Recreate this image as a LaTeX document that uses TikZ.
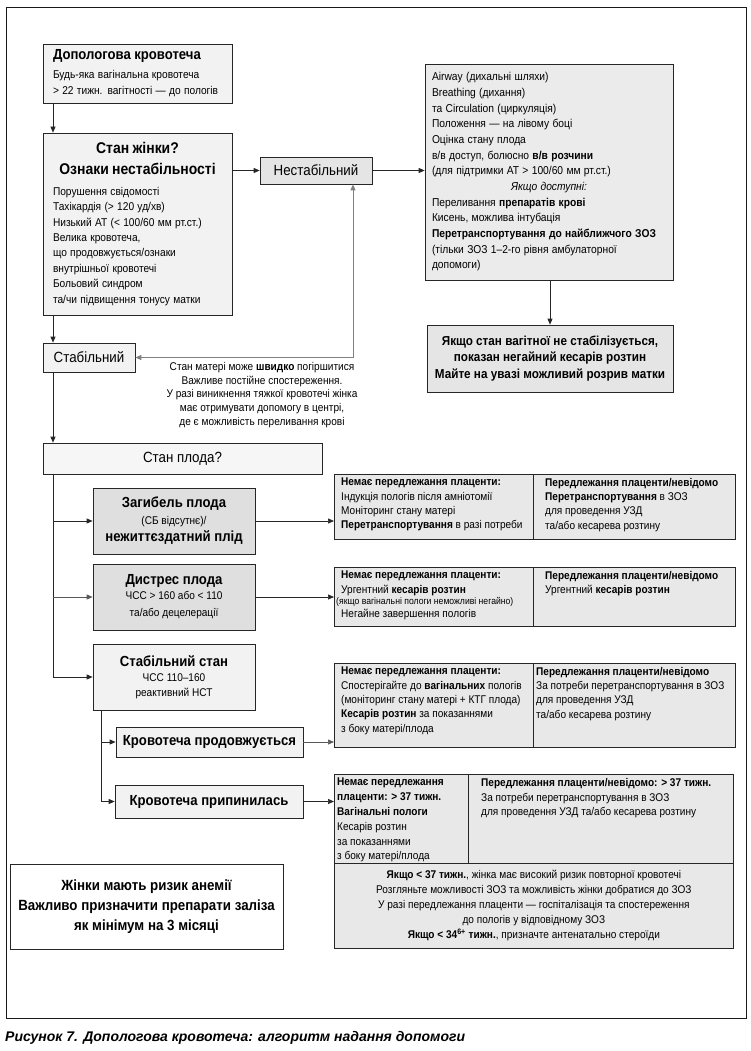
\documentclass[tikz,border=0pt]{standalone}
\usepackage{fontspec}
\setmainfont[FakeStretch=0.9]{Liberation Sans}
\newfontfamily\capfont{Liberation Sans}
\usepackage{xcolor}
\usetikzlibrary{arrows.meta, positioning, calc}

\definecolor{palefill}{gray}{0.95}
\definecolor{fetusfill}{gray}{0.965}
\definecolor{midfill}{gray}{0.90}
\definecolor{darkfill}{gray}{0.875}
\definecolor{resusfill}{gray}{0.92}
\definecolor{cellfill}{gray}{0.91}

\newcommand{\titlefont}{\fontsize{14.6}{17}\selectfont\bfseries}
\newcommand{\headfont}{\fontsize{14.8}{17}\selectfont}
\newcommand{\bodyfont}{\fontsize{11.3}{15.5}\selectfont}
\newcommand{\subfont}{\fontsize{11.2}{14}\selectfont}
\newcommand{\cellfont}{\fontsize{11.2}{14.3}\selectfont}
\newcommand{\notefont}{\fontsize{11.2}{13.8}\selectfont}
\newcommand{\alertfont}{\fontsize{13}{16.2}\selectfont\bfseries}
\newcommand{\anemiafont}{\fontsize{14.8}{20}\selectfont\bfseries}

\tikzset{
  box/.style={
    rectangle, draw=black!85, line width=0.7pt,
    fill=palefill, inner sep=0pt, align=center
  },
  cell/.style={
    rectangle, draw=black!85, line width=0.7pt,
    fill=cellfill, inner sep=0pt, anchor=north west
  },
  celltext/.style={anchor=north west, inner sep=0pt, align=left, font=\cellfont},
  arrow/.style={-{Triangle[length=6pt,width=5pt]}, line width=0.7pt, draw=black!85},
  greyarrow/.style={{Triangle[length=6pt,width=5pt]}-{Triangle[length=6pt,width=5pt]},
    line width=1pt, draw=black!50}
}

\begin{document}
\begin{tikzpicture}[x=1pt, y=-1pt]
\useasboundingbox (0,0) rectangle (751,1051);
\draw[line width=0.9pt, draw=black!90] (6,7) rectangle (746,1018);

\coordinate (spine) at (53,0);
\coordinate (spine2) at (101,0);
\coordinate (turn) at (353,0);

% mother
\node[box, minimum width=189pt, minimum height=59pt, text width=169pt, align=left] (onset) at (137.5,73.5)
  {{\titlefont Допологова кровотеча\par}\vspace{3pt}
   {\bodyfont\fontsize{11.3}{16}\selectfont Будь-яка вагінальна кровотеча\\> 22 тижн. вагітності — до пологів\par}};
\node[box, minimum width=189pt, minimum height=182pt, text width=169pt, align=left] (woman) at (137.5,224)
  {{\centering\titlefont\fontsize{15.5}{21}\selectfont Стан жінки?\\Ознаки нестабільності\par}\vspace{5pt}
   {\bodyfont\fontsize{11.3}{15.4}\selectfont Порушення свідомості\\Тахікардія (> 120 уд/хв)\\Низький АТ (< 100/60 мм рт.ст.)\\Велика кровотеча,\\що продовжується/ознаки\\внутрішньої кровотечі\\Больовий синдром\\та/чи підвищення тонусу матки\par}};
\node[box, fill=midfill, minimum width=112pt, minimum height=27pt, font=\headfont] (unstable) at (316,170.5) {Нестабільний};
\node[box, fill=resusfill, minimum width=248pt, minimum height=216pt, text width=234pt, align=left] (resus) at (549,172)
  {{\bodyfont\fontsize{11.4}{15.67}\selectfont Airway (дихальні шляхи)\\Breathing (дихання)\\та Circulation (циркуляція)\\Положення — на лівому боці\\Оцінка стану плода\\в/в доступ, болюсно \textbf{в/в розчини}\\(для підтримки АТ > 100/60 мм рт.ст.)\par
   {\centering\itshape Якщо доступні:\par}
   Переливання \textbf{препаратів крові}\\Кисень, можлива інтубація\\\textbf{Перетранспортування до найближчого ЗОЗ}\\(тільки ЗОЗ 1–2-го рівня амбулаторної\\допомоги)\par}};
\node[box, fill=midfill, minimum width=246pt, minimum height=67pt, font=\alertfont] (cesar) at (550,358.5)
  {Якщо стан вагітної не стабілізується,\\показан негайний кесарів розтин\\Майте на увазі можливий розрив матки};
\node[box, minimum width=92pt, minimum height=29pt, font=\headfont] (stable) at (89,357.5) {Стабільний};
\node[font=\notefont, align=center, anchor=north, inner sep=0pt] (note) at (262,362)
  {Стан матері може \textbf{швидко} погіршитися\\Важливе постійне спостереження.\\У разі виникнення тяжкої кровотечі жінка\\має отримувати допомогу в центрі,\\де є можливість переливання крові};

% fetus
\node[box, fill=fetusfill, minimum width=279pt, minimum height=31pt, font=\headfont] (fetus) at (182.5,458.5) {Стан плода?};
\node[box, fill=darkfill, minimum width=162pt, minimum height=66pt, font=\titlefont] (demise) at (174,521)
  {Загибель плода\\{\subfont\mdseries (СБ відсутнє)/}\\нежиттєздатний плід};
\node[box, fill=darkfill, minimum width=162pt, minimum height=66pt, font=\titlefont] (distress) at (174,597)
  {Дистрес плода\\[-2pt]{\subfont\mdseries ЧСС > 160 або < 110}\\{\subfont\mdseries та/або децелерації}};
\node[box, minimum width=162pt, minimum height=66pt, font=\titlefont] (fstable) at (174,677)
  {Стабільний стан\\[-2pt]{\subfont\mdseries ЧСС 110–160}\\[-2pt]{\subfont\mdseries реактивний НСТ}};
\node[box, minimum width=187pt, minimum height=30pt, font=\titlefont] (ongoing) at (209.5,742) {Кровотеча продовжується};
\node[box, minimum width=188pt, minimum height=33pt, font=\titlefont] (stopped) at (209,801.5) {Кровотеча припинилась};

% tables
\node[cell, minimum width=199pt, minimum height=65pt] (t1a) at (334,474) {};
\node[cell, minimum width=202pt, minimum height=65pt] (t1b) at (533,474) {};
\node[celltext] (t1l) at ($(t1a.north west)+(7,4)$)
  {\textbf{Немає передлежання плаценти:}\\Індукція пологів після амніотомії\\Моніторинг стану матері\\\textbf{Перетранспортування} в разі потреби};
\node[celltext] (t1r) at ($(t1b.north west)+(12,4)$)
  {\textbf{Передлежання плаценти/невідомо}\\\textbf{Перетранспортування} в ЗОЗ\\для проведення УЗД\\та/або кесарева розтину};

\node[cell, minimum width=199pt, minimum height=59pt] (t2a) at (334,567) {};
\node[cell, minimum width=202pt, minimum height=59pt] (t2b) at (533,567) {};
\node[celltext] (t2l) at ($(t2a.north west)+(7,4)$)
  {\textbf{Немає передлежання плаценти:}\\Ургентний \textbf{кесарів розтин}\\[-3pt]\hspace*{-5pt}{\fontsize{9.6}{10}\selectfont (якщо вагінальні пологи неможливі негайно)}\\[-1pt]Негайне завершення пологів};
\node[celltext] (t2r) at ($(t2b.north west)+(12,4)$)
  {\textbf{Передлежання плаценти/невідомо}\\Ургентний \textbf{кесарів розтин}};

\node[cell, minimum width=199pt, minimum height=84pt] (t3a) at (334,663) {};
\node[cell, minimum width=202pt, minimum height=84pt] (t3b) at (533,663) {};
\node[celltext] (t3l) at ($(t3a.north west)+(7,4)$)
  {\textbf{Немає передлежання плаценти:}\\Спостерігайте до \textbf{вагінальних} пологів\\(моніторинг стану матері + КТГ плода)\\\textbf{Кесарів розтин} за показаннями\\з боку матері/плода};
\node[celltext] (t3r) at ($(t3b.north west)+(3,4)$)
  {\textbf{Передлежання плаценти/невідомо}\\За потреби перетранспортування в ЗОЗ\\для проведення УЗД\\та/або кесарева розтину};

\node[cell, minimum width=134pt, minimum height=89pt] (t4a) at (334,774) {};
\node[cell, minimum width=265pt, minimum height=89pt] (t4b) at (468,774) {};
\node[cell, minimum width=399pt, minimum height=85pt, font=\cellfont\fontsize{11.2}{15}\selectfont, align=center] (t4c) at (334,863)
  {\textbf{Якщо < 37 тижн.}, жінка має високий ризик повторної кровотечі\\Розгляньте можливості ЗОЗ та можливість жінки добратися до ЗОЗ\\У разі передлежання плаценти — госпіталізація та спостереження\\до пологів у відповідному ЗОЗ\\\textbf{Якщо < 34\textsuperscript{6+} тижн.}, призначте антенатально стероїди};
\node[celltext, font=\cellfont\fontsize{11.2}{14.8}\selectfont] (t4l) at ($(t4a.north west)+(3,4)$)
  {\textbf{Немає передлежання}\\\textbf{плаценти: > 37 тижн.}\\\textbf{Вагінальні пологи}\\Кесарів розтин\\за показаннями\\з боку матері/плода};
\node[celltext, font=\cellfont\fontsize{11.2}{14.8}\selectfont] (t4r) at ($(t4b.north west)+(13,4)$)
  {\textbf{Передлежання плаценти/невідомо: > 37 тижн.}\\За потреби перетранспортування в ЗОЗ\\для проведення УЗД та/або кесарева розтину};

\node[box, fill=white, minimum width=273pt, minimum height=85pt, font=\anemiafont] (anemia) at (146.5,906.5)
  {Жінки мають ризик анемії\\Важливо призначити препарати заліза\\як мінімум на 3 місяці};

\node[anchor=west, inner sep=0pt] (caption) at (5,1038)
  {\fontsize{14}{16}\selectfont\capfont\bfseries\itshape Рисунок 7. Допологова кровотеча: алгоритм надання допомоги};

% connectors
\draw[arrow] (onset.south -| spine) -- (woman.north -| spine);
\draw[arrow] (woman.east |- unstable) -- (unstable.west);
\draw[arrow] (unstable.east) -- (unstable.east -| resus.west);
\draw[arrow] (resus.south -| cesar) -- (cesar.north);
\draw[arrow] (woman.south -| spine) -- (stable.north -| spine);
\draw[greyarrow] (stable.east) -| (turn |- unstable.south);
\draw[arrow] (stable.south -| spine) -- (fetus.north -| spine);
\draw[arrow] (fetus.south -| spine) |- (fstable.west);
\draw[arrow] (spine |- demise) -- (demise.west);
\draw[arrow, draw=black!65] (spine |- distress) -- (distress.west);
\draw[arrow] (fstable.south -| spine2) |- (stopped.west);
\draw[arrow] (spine2 |- ongoing) -- (ongoing.west);
\draw[arrow] (demise.east) -- (demise.east -| t1a.west);
\draw[arrow] (distress.east) -- (distress.east -| t2a.west);
\draw[arrow, draw=black!65] (ongoing.east) -- (ongoing.east -| t3a.west);
\draw[arrow] (stopped.east) -- (stopped.east -| t4a.west);

\end{tikzpicture}
\end{document}
